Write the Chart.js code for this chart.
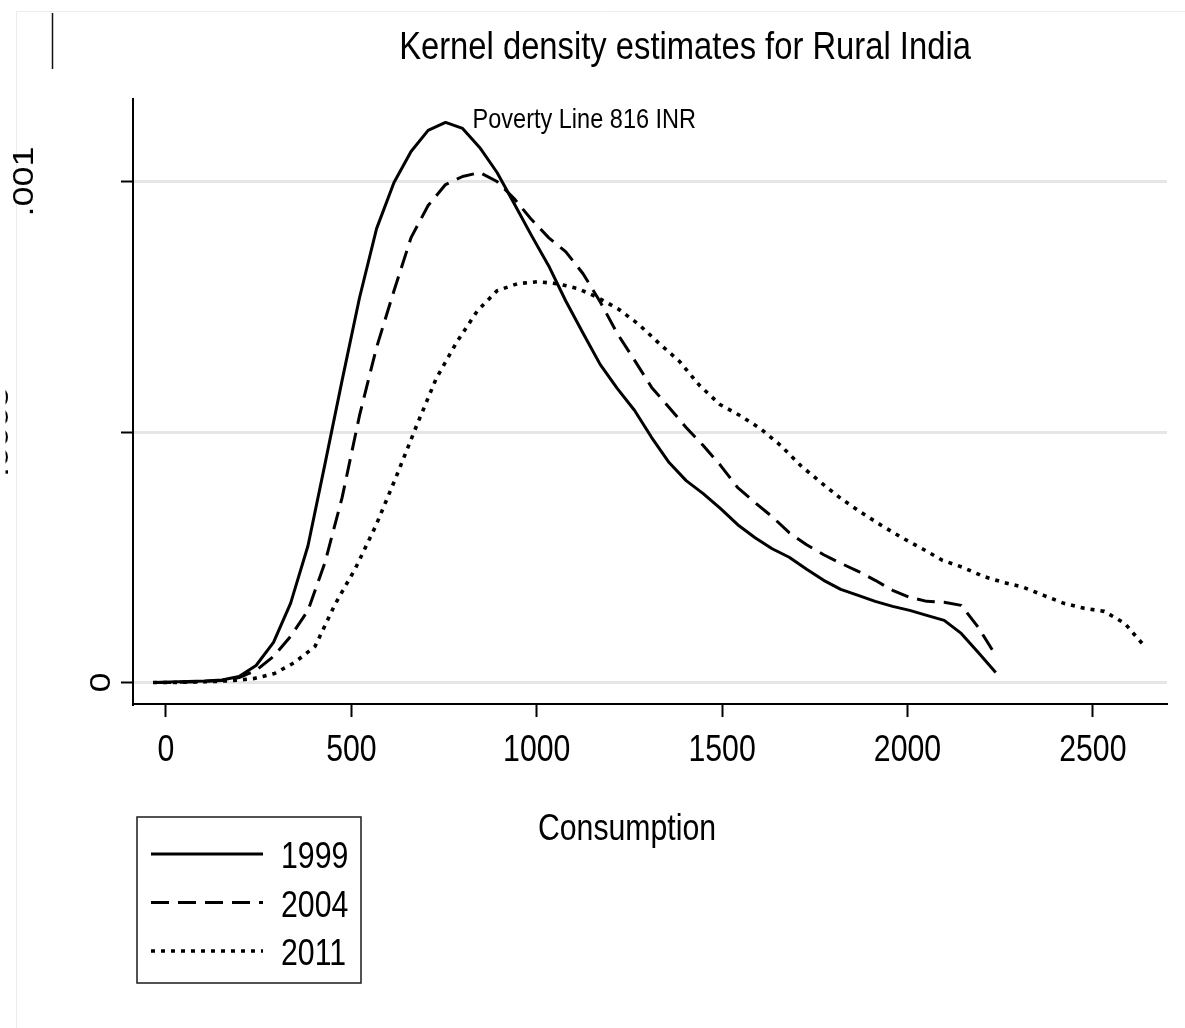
<!DOCTYPE html>
<html>
<head>
<meta charset="utf-8">
<title>Kernel density estimates for Rural India</title>
<script src="https://cdn.jsdelivr.net/npm/chart.js@4.4.1/dist/chart.umd.min.js"></script>
<style>
  html, body { margin: 0; padding: 0; background: #ffffff; }
  #wrap { width: 1185px; height: 1028px; }
</style>
</head>
<body>
<div id="wrap"><canvas id="kde" width="1185" height="1028"></canvas></div>
<script>
// Evaluation points (monthly per-capita consumption, INR)
const consumption9904 = [-35, 11, 58, 104, 151, 197, 243, 290, 336, 383, 429, 475, 522, 568, 615, 661, 707, 754, 800, 846,
  893, 939, 986, 1032, 1078, 1125, 1171, 1217, 1264, 1310, 1357, 1403, 1449, 1496, 1542, 1589, 1635, 1681, 1728, 1774,
  1820, 1867, 1913, 1960, 2006, 2052, 2099, 2145, 2191, 2238];
const consumption11 = [-35, 20, 74, 129, 183, 238, 293, 347, 402, 456, 511, 566, 620, 675, 729, 784, 839, 893, 948, 1002,
  1057, 1112, 1166, 1221, 1275, 1330, 1385, 1439, 1494, 1548, 1603, 1658, 1712, 1767, 1821, 1876, 1931, 1985, 2040, 2094,
  2149, 2204, 2258, 2313, 2367, 2422, 2477, 2531, 2586, 2640];

// Estimated densities
const density1999 = [0, 0.000001, 0.000002, 0.000003, 0.000005, 0.000012, 0.000034, 0.000080, 0.000158, 0.000273,
  0.000437, 0.000603, 0.000768, 0.000906, 0.000998, 0.001060, 0.001102, 0.001118, 0.001106, 0.001068,
  0.001018, 0.000956, 0.000892, 0.000832, 0.000762, 0.000697, 0.000635, 0.000587, 0.000543, 0.000489,
  0.000439, 0.000403, 0.000377, 0.000347, 0.000315, 0.000289, 0.000267, 0.000250, 0.000226, 0.000204,
  0.000186, 0.000174, 0.000162, 0.000152, 0.000144, 0.000134, 0.000124, 0.000098, 0.000060, 0.000020];
const density2004 = [0, 0, 0.000001, 0.000002, 0.000004, 0.000010, 0.000024, 0.000052, 0.000092, 0.000144,
  0.000240, 0.000369, 0.000533, 0.000669, 0.000782, 0.000888, 0.000952, 0.000994, 0.001010, 0.001018,
  0.001000, 0.000966, 0.000924, 0.000888, 0.000860, 0.000816, 0.000760, 0.000697, 0.000643, 0.000589,
  0.000549, 0.000509, 0.000473, 0.000433, 0.000389, 0.000359, 0.000331, 0.000299, 0.000275, 0.000255,
  0.000238, 0.000222, 0.000204, 0.000184, 0.000170, 0.000162, 0.000160, 0.000154, 0.000110, 0.000054];
const density2011 = [0, 0, 0.000001, 0.000002, 0.000004, 0.000008, 0.000018, 0.000040, 0.000072, 0.000156,
  0.000228, 0.000313, 0.000409, 0.000511, 0.000607, 0.000679, 0.000741, 0.000782, 0.000796, 0.000800,
  0.000796, 0.000786, 0.000768, 0.000745, 0.000715, 0.000677, 0.000641, 0.000593, 0.000555, 0.000533,
  0.000507, 0.000473, 0.000433, 0.000399, 0.000367, 0.000339, 0.000313, 0.000289, 0.000267, 0.000244,
  0.000230, 0.000212, 0.000200, 0.000190, 0.000174, 0.000158, 0.000148, 0.000142, 0.000118, 0.000072];

const years = ['1999', '2004', '2011'];
const xTicks = [0, 500, 1000, 1500, 2000, 2500];
const xTickLabels = ['0', '500', '1000', '1500', '2000', '2500'];
const yTicks = [0, 0.0005, 0.001];
const yTickLabels = ['0', '.0005', '.001'];
const povertyLine = 816;
const povertyLabel = 'Poverty Line 816 INR';
const titleText = 'Kernel density estimates for Rural India';
const xTitle = 'Consumption';

// ---- styling / layout ----
const FONT = "'Liberation Sans', Arial, Helvetica, sans-serif";
const SQUEEZE = 0.84;              // horizontal glyph compression of the graph text
const INK = '#000000';
const CANVAS_W = 1185, CANVAS_H = 1028;
const AREA = { left: 133, top: 99, right: 1167, bottom: 704 };
const yLabelBaselineX = [110, 8, 33];   // baseline x of each rotated y label
const yLabelClipLeft = 5.5;             // page margin: nothing is painted left of it
const LEGEND = { x0: 137, y0: 817, x1: 361, y1: 983, lineX0: 151, lineX1: 263, textX: 281, baselines: [868, 916.5, 965] };

function pts(xs, ys) { return xs.map((x, i) => ({ x: x, y: ys[i] })); }

function drawText(ctx, text, x, y, size, align, rotated) {
  ctx.save();
  ctx.translate(x, y);
  if (rotated) { ctx.rotate(-Math.PI / 2); ctx.scale(1, SQUEEZE); }
  else { ctx.scale(SQUEEZE, 1); }
  ctx.font = size + 'px ' + FONT;
  ctx.fillStyle = INK;
  ctx.textAlign = align;
  ctx.textBaseline = 'alphabetic';
  ctx.fillText(text, 0, 0);
  ctx.restore();
}

const paperPlugin = {
  id: 'paper',
  beforeDraw(chart) {
    const ctx = chart.ctx;
    ctx.save();
    ctx.fillStyle = '#ffffff';
    ctx.fillRect(0, 0, CANVAS_W, CANVAS_H);
    // faint page frame and margin bar
    ctx.strokeStyle = '#ececec';
    ctx.lineWidth = 1;
    ctx.beginPath();
    ctx.moveTo(16, 11.5); ctx.lineTo(CANVAS_W, 11.5);
    ctx.moveTo(16.5, 11.5); ctx.lineTo(16.5, CANVAS_H);
    ctx.stroke();
    ctx.strokeStyle = '#111111';
    ctx.lineWidth = 1.5;
    ctx.beginPath();
    ctx.moveTo(52.5, 13); ctx.lineTo(52.5, 69);
    ctx.stroke();
    ctx.restore();
  }
};

const textPlugin = {
  id: 'graphText',
  afterDraw(chart) {
    const ctx = chart.ctx;
    const xs = chart.scales.x, ys = chart.scales.y;

    // title
    drawText(ctx, titleText, 685, 59, 39, 'center', false);

    // x tick labels
    xs.ticks.forEach((t, i) => {
      drawText(ctx, xTickLabels[i], xs.getPixelForValue(t.value), 761, 36, 'center', false);
    });

    // y tick labels (rotated), kept inside the page margin
    ctx.save();
    ctx.beginPath();
    ctx.rect(yLabelClipLeft, 0, CANVAS_W, CANVAS_H);
    ctx.clip();
    ys.ticks.forEach((t, i) => {
      drawText(ctx, yTickLabels[i], yLabelBaselineX[i], ys.getPixelForValue(t.value), 36, 'center', true);
    });
    ctx.restore();

    // x axis title
    drawText(ctx, xTitle, 627, 840, 36, 'center', false);

    // poverty line note
    drawText(ctx, povertyLabel, xs.getPixelForValue(povertyLine) + 4, chart.chartArea.top + 29, 28, 'left', false);

    // legend
    ctx.save();
    ctx.strokeStyle = '#1a1a1a';
    ctx.lineWidth = 1.5;
    ctx.strokeRect(LEGEND.x0, LEGEND.y0, LEGEND.x1 - LEGEND.x0, LEGEND.y1 - LEGEND.y0);
    ctx.restore();
    chart.data.datasets.forEach((ds, i) => {
      const base = LEGEND.baselines[i];
      const ly = base - 14;
      ctx.save();
      ctx.strokeStyle = ds.borderColor;
      ctx.lineWidth = ds.borderWidth;
      ctx.lineCap = 'butt';
      ctx.setLineDash(ds.borderDash || []);
      ctx.beginPath();
      ctx.moveTo(LEGEND.lineX0, ly);
      ctx.lineTo(LEGEND.lineX1, ly);
      ctx.stroke();
      ctx.restore();
      drawText(ctx, ds.label, LEGEND.textX, base, 36, 'left', false);
    });
  }
};

const ctx = document.getElementById('kde').getContext('2d');
new Chart(ctx, {
  type: 'line',
  data: {
    datasets: [
      { label: years[0], data: pts(consumption9904, density1999), borderColor: INK, borderWidth: 3, borderDash: [] },
      { label: years[1], data: pts(consumption9904, density2004), borderColor: INK, borderWidth: 3, borderDash: [18, 9] },
      { label: years[2], data: pts(consumption11, density2011), borderColor: INK, borderWidth: 3.6, borderDash: [4, 6] }
    ]
  },
  options: {
    responsive: false,
    animation: false,
    devicePixelRatio: 1,
    parsing: true,
    elements: {
      point: { radius: 0, hoverRadius: 0 },
      line: { tension: 0, borderCapStyle: 'butt', borderJoinStyle: 'round', fill: false }
    },
    layout: { padding: { left: 0, top: AREA.top, right: CANVAS_W - AREA.right, bottom: 0 } },
    plugins: {
      legend: { display: false },
      title: { display: false },
      tooltip: { enabled: false }
    },
    events: [],
    scales: {
      x: {
        type: 'linear',
        min: -89,
        max: 2700,
        afterBuildTicks(scale) { scale.ticks = xTicks.map(v => ({ value: v })); },
        afterFit(scale) { scale.height = CANVAS_H - AREA.bottom; },
        ticks: { display: false },
        grid: { drawOnChartArea: false, drawTicks: true, tickLength: 13, tickColor: INK, tickWidth: 2 },
        border: { display: true, color: INK, width: 2 }
      },
      y: {
        type: 'linear',
        min: -0.0000429,
        max: 0.0011647,
        afterBuildTicks(scale) { scale.ticks = yTicks.map(v => ({ value: v })); },
        afterFit(scale) { scale.width = AREA.left; },
        ticks: { display: false },
        grid: { drawOnChartArea: true, color: '#e6e6e6', lineWidth: 3, drawTicks: true, tickLength: 12, tickColor: INK, tickWidth: 2 },
        border: { display: true, color: INK, width: 2 }
      }
    }
  },
  plugins: [paperPlugin, textPlugin]
});
</script>
</body>
</html>
